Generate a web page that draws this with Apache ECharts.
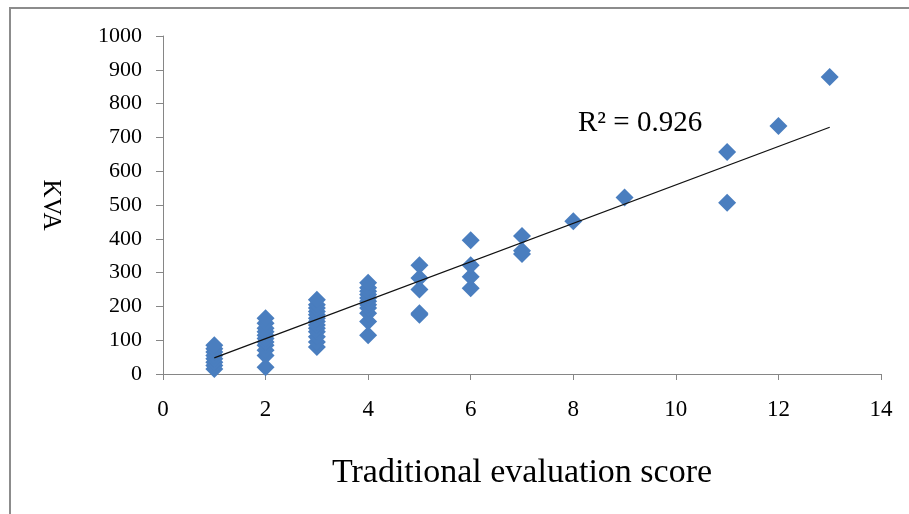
<!DOCTYPE html>
<html>
<head>
<meta charset="utf-8">
<script src="https://cdn.jsdelivr.net/npm/echarts@6/dist/echarts.min.js"></script>
<style>html,body{margin:0;padding:0;background:#fff;}#c{width:909px;height:514px;}</style>
</head>
<body>
<div id="c"></div>
<script>
// Scores (x) and KVA values (y)
const scores = [1, 2, 3, 4, 5, 6, 7, 8, 9, 11, 11, 12, 13];
const kvaByScore = [
  [15, 25, 35, 45, 55, 65, 75, 85],
  [20, 55, 70, 85, 95, 105, 115, 125, 135, 150, 165],
  [80, 95, 110, 125, 135, 145, 155, 165, 175, 185, 195, 205, 220],
  [115, 155, 180, 195, 205, 215, 225, 235, 245, 255, 270],
  [175, 180, 250, 284, 322],
  [254, 288, 322, 396],
  [355, 365, 408],
  [452],
  [522],
  [507],
  [657],
  [734],
  [879]
];
const trendX = [1, 13];
const trendY = [48, 730];
const xTicks = [0, 2, 4, 6, 8, 10, 12, 14];
const yTicks = [0, 100, 200, 300, 400, 500, 600, 700, 800, 900, 1000];

const points = [];
scores.forEach((s, i) => kvaByScore[i].forEach(v => points.push([s, v])));

const chart = echarts.init(document.getElementById('c'));
const font = 'Liberation Serif, Times New Roman, serif';
chart.setOption({
  animation: false,
  grid: { left: 163, right: 28, top: 36, bottom: 140 },
  xAxis: {
    type: 'value', min: xTicks[0], max: xTicks[xTicks.length - 1], interval: 2,
    name: 'Traditional evaluation score', nameLocation: 'middle', nameGap: 82,
    nameTextStyle: { fontFamily: font, fontSize: 34, color: '#000' },
    axisLine: { show: true, lineStyle: { color: '#868686', width: 1 } },
    axisTick: { show: true, length: 6, lineStyle: { color: '#868686' } },
    axisLabel: { fontFamily: font, fontSize: 23, color: '#000', margin: 24,
      formatter: v => String(v) },
    splitLine: { show: false }
  },
  yAxis: {
    type: 'value', min: yTicks[0], max: yTicks[yTicks.length - 1], interval: 100,
    name: 'KVA', nameLocation: 'middle', nameGap: 100, nameRotate: -90,
    nameTextStyle: { fontFamily: font, fontSize: 25, color: '#000' },
    axisLine: { show: true, lineStyle: { color: '#868686', width: 1 } },
    axisTick: { show: true, length: 7, lineStyle: { color: '#868686' } },
    axisLabel: { fontFamily: font, fontSize: 22, color: '#000', margin: 21,
      formatter: v => String(v) },
    splitLine: { show: false }
  },
  graphic: [
    { type: 'polyline', silent: true, shape: { points: [[10, 514], [10, 8], [909, 8]] },
      style: { stroke: '#8c8c8c', lineWidth: 2, fill: null } },
    { type: 'text', left: 578, top: 109,
      style: { text: 'R\u00B2 = 0.926', fontFamily: font, fontSize: 29, fill: '#000' } }
  ],
  series: [
    {
      type: 'scatter', symbol: 'diamond', symbolSize: [18, 18],
      itemStyle: { color: '#4a7ebf', opacity: 1 },
      data: points, z: 2
    },
    {
      type: 'line', showSymbol: false, symbol: 'none',
      lineStyle: { color: '#111', width: 1.3 },
      data: trendX.map((x, i) => [x, trendY[i]]), z: 3
    }
  ]
});
</script>
</body>
</html>
